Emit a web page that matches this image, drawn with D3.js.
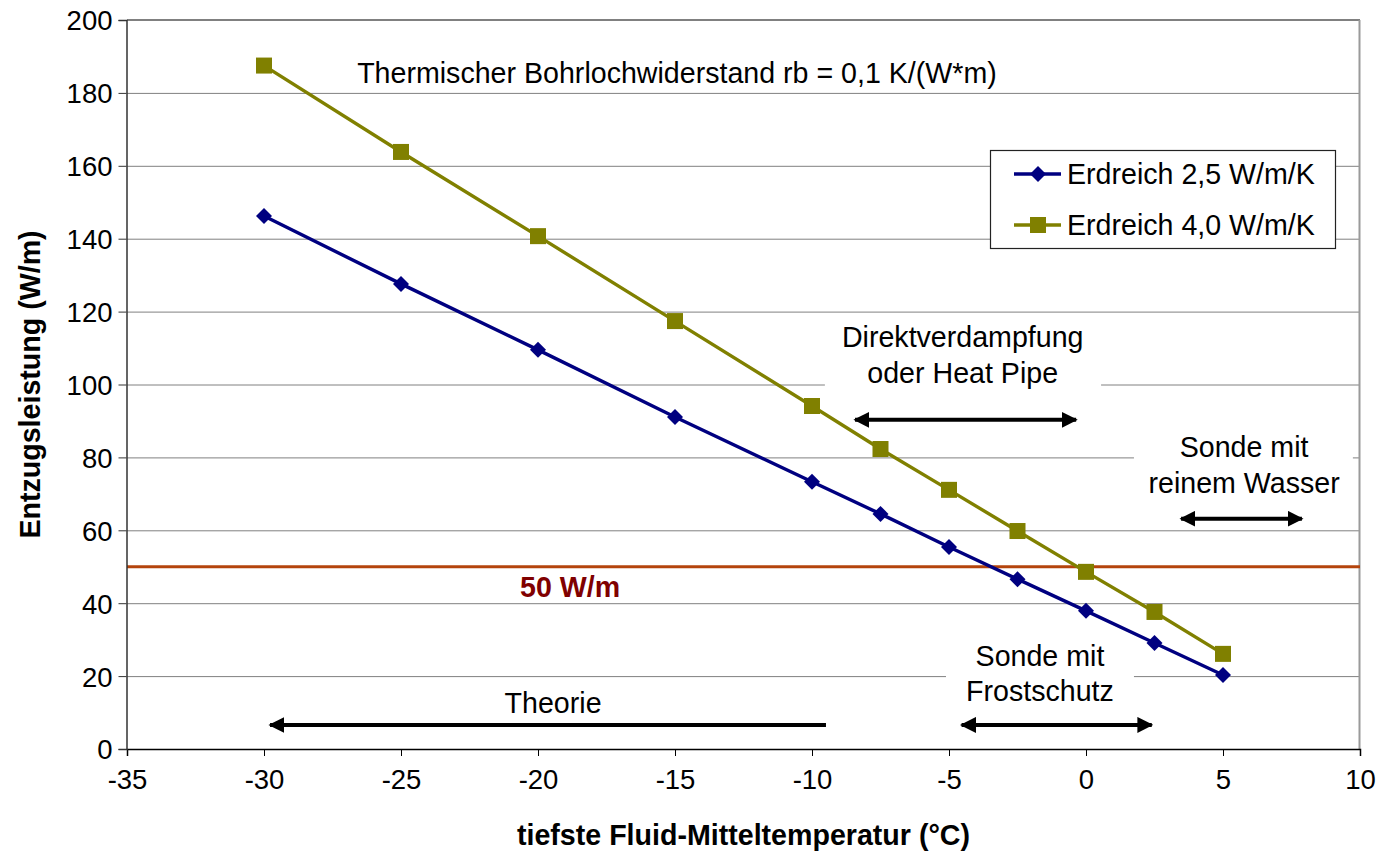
<!DOCTYPE html>
<html>
<head>
<meta charset="utf-8">
<script src="https://cdn.jsdelivr.net/npm/d3@7/dist/d3.min.js"></script>
<style>
  html, body { margin: 0; padding: 0; background: #fff; }
  svg { display: block; font-family: "Liberation Sans", Arial, sans-serif; }
</style>
</head>
<body>
<svg id="chart" width="1378" height="856"></svg>
<script>
// ---- data ----
const temps = [-30, -25, -20, -15, -10, -7.5, -5, -2.5, 0, 2.5, 5];
const erdreich25 = [146.2, 127.6, 109.5, 91.1, 73.3, 64.5, 55.4, 46.6, 37.9, 29.1, 20.3];
const erdreich40 = [187.5, 163.8, 140.7, 117.4, 94.1, 82.3, 71.1, 59.8, 48.6, 37.6, 26.1];
const seriesNames = ["Erdreich 2,5 W/m/K", "Erdreich 4,0 W/m/K"];
const xTicks = [-35, -30, -25, -20, -15, -10, -5, 0, 5, 10];
const yTicks = [0, 20, 40, 60, 80, 100, 120, 140, 160, 180, 200];
const refLine = 50;
const refLabel = "50 W/m";
const titleText = "Thermischer Bohrlochwiderstand rb = 0,1 K/(W*m)";
const xTitle = "tiefste Fluid-Mitteltemperatur (°C)";
const yTitle = "Entzugsleistung (W/m)";
// annotations (data coordinates): text lines, text center x, baselines, box x-range/y-range, arrow
const annoLines = [["Direktverdampfung", "oder Heat Pipe"], ["Sonde mit", "reinem Wasser"], ["Sonde mit", "Frostschutz"], ["Theorie"]];
const annoCx = [-4.5, 5.77, -1.68, -19.45];
const annoBase = [[110.2, 100.3], [80.1, 70.2], [22.8, 13.2], [9.9]];
const annoBoxX = [[-9.53, 0.55], [1.75, 9.74], [-5.11, 1.75], null];
const annoBoxY = [[115, 95], [96, 64], [30, 10], null];
const arrowX = [[-8.43, -0.36], [3.47, 7.88], [-4.54, 2.4], [-29.78, -9.49]];
const arrowY = [90.3, 63.2, 6.6, 6.6];
const arrowBoth = [true, true, true, false];

// ---- layout ----
const svg = d3.select("#chart");
const L = 127, R = 1360, T = 20, B = 749;
const FS = 28.6;
const x = d3.scaleLinear().domain([-35, 10]).range([L, R]);
const y = d3.scaleLinear().domain([0, 200]).range([B, T]);
const navy = "#000080", olive = "#808000";

// gridlines
svg.append("g").selectAll("line").data(yTicks.filter(d => d > 0)).join("line")
  .attr("x1", L).attr("x2", R).attr("y1", d => y(d) + 0.5).attr("y2", d => y(d) + 0.5)
  .attr("stroke", "#808080").attr("stroke-width", 1);
// plot border top/right
svg.append("line").attr("x1", L).attr("x2", R).attr("y1", T).attr("y2", T).attr("stroke", "#808080").attr("stroke-width", 2);
svg.append("line").attr("x1", R - 0.5).attr("x2", R - 0.5).attr("y1", T).attr("y2", B).attr("stroke", "#9a9a9a").attr("stroke-width", 2);

// annotation boxes (white background)
annoBoxX.forEach((bx, i) => {
  if (!bx) return;
  const by = annoBoxY[i];
  svg.append("rect").attr("x", x(bx[0])).attr("width", x(bx[1]) - x(bx[0]))
    .attr("y", y(by[0])).attr("height", y(by[1]) - y(by[0])).attr("fill", "#fff");
});

// reference line
svg.append("line").attr("x1", L).attr("x2", R).attr("y1", y(refLine)).attr("y2", y(refLine))
  .attr("stroke", "#B4440C").attr("stroke-width", 3.2);
svg.append("text").attr("x", x(-18.83)).attr("y", y(41.7)).attr("text-anchor", "middle")
  .attr("font-size", FS).attr("font-weight", "bold").attr("fill", "#800000").text(refLabel);

// axes
const xAxis = d3.axisBottom(x).tickValues(xTicks).tickSize(7).tickFormat(d => d);
const gx = svg.append("g").attr("transform", `translate(0,${B})`).call(xAxis);
gx.select(".domain").attr("stroke", "#000").attr("stroke-width", 1.5);
gx.selectAll(".tick line").attr("stroke", "#000");
gx.selectAll("text").attr("font-size", 27.5).attr("font-family", "Liberation Sans, Arial").attr("fill", "#000").attr("dy", "1.08em");

const yAxis = d3.axisLeft(y).tickValues(yTicks).tickSize(8).tickFormat(d => d);
const gy = svg.append("g").attr("transform", `translate(${L - 0.5},0)`).call(yAxis);
gy.select(".domain").attr("stroke", "#333").attr("stroke-width", 1.5);
gy.selectAll(".tick line").attr("stroke", "#333");
gy.selectAll("text").attr("font-size", 27.5).attr("font-family", "Liberation Sans, Arial").attr("fill", "#000").attr("x", -14).attr("dy", "0.36em");

// axis titles
svg.append("text").attr("x", (L + R) / 2).attr("y", 845).attr("text-anchor", "middle")
  .attr("font-size", FS).attr("font-weight", "bold").text(xTitle);
svg.append("text").attr("transform", `translate(40,${(T + B) / 2}) rotate(-90)`).attr("text-anchor", "middle")
  .attr("font-size", FS).attr("font-weight", "bold").text(yTitle);

// chart title
svg.append("text").attr("x", x(-26.6)).attr("y", y(182.6)).attr("font-size", FS).text(titleText);

// annotation texts
annoLines.forEach((lines, i) => {
  lines.forEach((t, j) => {
    svg.append("text").attr("x", x(annoCx[i])).attr("y", y(annoBase[i][j]))
      .attr("text-anchor", "middle").attr("font-size", FS).text(t);
  });
});

// arrows
const defs = svg.append("defs");
defs.append("marker").attr("id", "ah").attr("viewBox", "0 0 10 10").attr("refX", 9).attr("refY", 5)
  .attr("markerWidth", 4).attr("markerHeight", 4).attr("markerUnits", "strokeWidth").attr("orient", "auto-start-reverse")
  .append("path").attr("d", "M0,0 L10,5 L0,10 Z").attr("fill", "#000");
arrowX.forEach((ax, i) => {
  const ln = svg.append("line").attr("x1", x(ax[0])).attr("x2", x(ax[1]))
    .attr("y1", y(arrowY[i])).attr("y2", y(arrowY[i])).attr("stroke", "#000").attr("stroke-width", 4)
    .attr("marker-start", "url(#ah)");
  if (arrowBoth[i]) ln.attr("marker-end", "url(#ah)");
});

// series
const line = d3.line().x(d => x(d[0])).y(d => y(d[1]));
const s1 = temps.map((t, i) => [t, erdreich25[i]]);
const s2 = temps.map((t, i) => [t, erdreich40[i]]);
svg.append("path").attr("d", line(s1)).attr("fill", "none").attr("stroke", navy).attr("stroke-width", 3.4);
svg.append("path").attr("d", line(s2)).attr("fill", "none").attr("stroke", olive).attr("stroke-width", 3.4);
const diamond = (cx, cy, r) => `M${cx},${cy - r}L${cx + r},${cy}L${cx},${cy + r}L${cx - r},${cy}Z`;
svg.append("g").selectAll("path").data(s1).join("path")
  .attr("d", d => diamond(x(d[0]), y(d[1]), 8)).attr("fill", navy);
svg.append("g").selectAll("rect").data(s2).join("rect")
  .attr("x", d => x(d[0]) - 8).attr("y", d => y(d[1]) - 8).attr("width", 16).attr("height", 16).attr("fill", olive);

// legend
const lg = svg.append("g");
lg.append("rect").attr("x", 990.5).attr("y", 150.5).attr("width", 345).attr("height", 98)
  .attr("fill", "#fff").attr("stroke", "#222").attr("stroke-width", 1.2);
const rowsY = [174, 225];
[navy, olive].forEach((c, i) => {
  lg.append("line").attr("x1", 1014).attr("x2", 1061).attr("y1", rowsY[i]).attr("y2", rowsY[i]).attr("stroke", c).attr("stroke-width", 3.4);
  if (i === 0) lg.append("path").attr("d", diamond(1038, rowsY[i], 8)).attr("fill", c);
  else lg.append("rect").attr("x", 1030).attr("y", rowsY[i] - 8).attr("width", 16).attr("height", 16).attr("fill", c);
  lg.append("text").attr("x", 1067).attr("y", rowsY[i] + 10).attr("font-size", FS).text(seriesNames[i]);
});
</script>
</body>
</html>
